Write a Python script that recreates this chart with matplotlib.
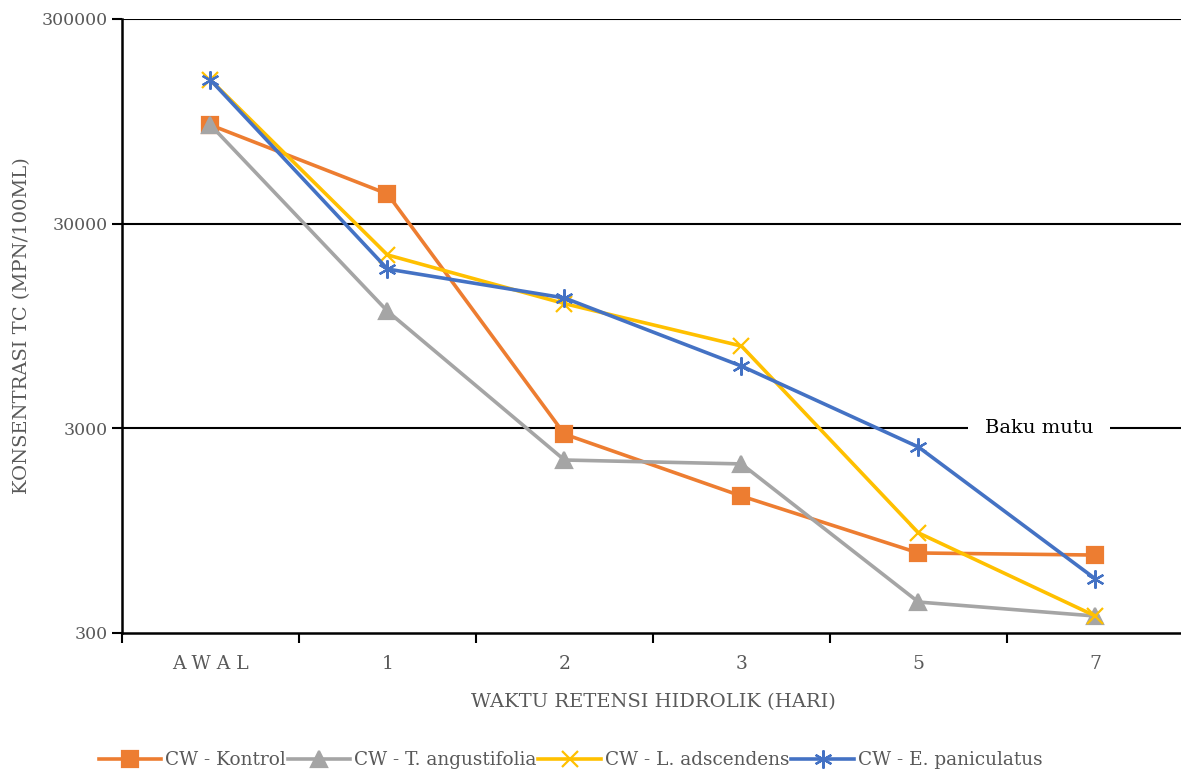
import matplotlib
matplotlib.use("Agg")
import matplotlib.pyplot as plt

# waktu retensi hidrolik (hari)
categories = ["A W A L", "1", "2", "3", "5", "7"]

# konsentrasi total coliform (MPN/100 mL)
kontrol = [91000, 41900, 2810, 1400, 738, 721]
t_angustifolia = [91000, 11200, 2100, 2010, 425, 363]
l_adscendens = [151000, 21100, 12200, 7570, 925, 363]
e_paniculatus = [151000, 18000, 13000, 6040, 2430, 551]

y_ticks = [300, 3000, 30000, 300000]
baku_mutu = 3000

plt.rcParams["font.family"] = ["DejaVu Serif"]
GREY = "#595959"

fig = plt.figure(figsize=(11.81, 7.71), dpi=100)
ax = fig.add_axes([0.1033, 0.179, 0.8992, 0.7964])

x = list(range(len(categories)))
series = [
    ("CW - Kontrol", kontrol, "#ED7D31", "s", 11),
    ("CW - T. angustifolia", t_angustifolia, "#A5A5A5", "^", 11),
    ("CW - L. adscendens", l_adscendens, "#FFC000", "x", 11),
    ("CW - E. paniculatus", e_paniculatus, "#4472C4", (6, 2, 0), 13),
]
for label, vals, col, mk, ms in series:
    ax.plot(x, vals, color=col, linewidth=2.6, marker=mk, markersize=ms,
            markeredgewidth=1.6, markeredgecolor=col, markerfacecolor=col,
            label=label, zorder=3)

ax.set_yscale("log")
ax.set_ylim(300, 300000)
ax.set_xlim(-0.5, len(categories) - 0.5)
ax.yaxis.set_major_locator(matplotlib.ticker.FixedLocator(y_ticks))
ax.yaxis.set_minor_locator(matplotlib.ticker.NullLocator())
ax.set_yticklabels([str(v) for v in y_ticks])
ax.set_xticks(x)
ax.set_xticklabels(categories)
ax.set_xticks([i - 0.5 for i in range(len(categories) + 1)], minor=True)
ax.tick_params(axis="x", which="major", length=0, pad=16, labelsize=13.5, labelcolor=GREY)
ax.tick_params(axis="x", which="minor", length=7, width=1.5, direction="out")
ax.tick_params(axis="y", which="major", length=7, width=1.5, direction="out",
               labelsize=12.5, labelcolor=GREY, pad=3)

for yv in y_ticks[1:]:
    ax.axhline(yv, color="black", linewidth=1.5, zorder=1)

for side in ["top", "right"]:
    ax.spines[side].set_visible(False)
for side in ["left", "bottom"]:
    ax.spines[side].set_linewidth(1.8)

ax.text(4.68, baku_mutu, "Baku mutu", ha="center", va="center", fontsize=14,
        color="black", zorder=2,
        bbox=dict(facecolor="white", edgecolor="none", pad=12))

ax.set_xlabel("WAKTU RETENSI HIDROLIK (HARI)", fontsize=14, color=GREY, labelpad=14)
ax.set_ylabel("KONSENTRASI TC (MPN/100ML)", fontsize=14, color=GREY, labelpad=8)

fig.legend(loc="center", bbox_to_anchor=(0.483, 1 - 760 / 771), ncol=4,
           frameon=False, fontsize=13.3, labelcolor=GREY, handlelength=3.4,
           handletextpad=0.2, columnspacing=0.1)

fig.savefig("out.png", dpi=100)
